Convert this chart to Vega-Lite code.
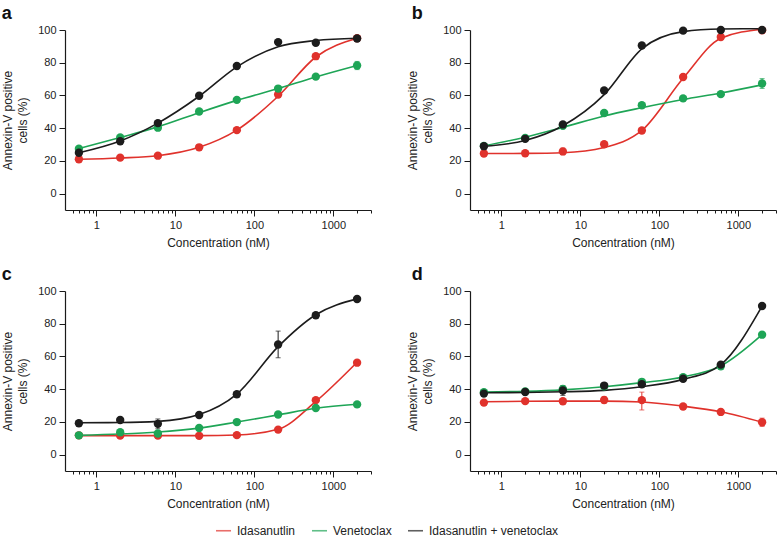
{
  "$schema": "https://vega.github.io/schema/vega-lite/v6.json",
  "padding": {"left": 1, "top": 4, "right": 0, "bottom": 0},
  "background": "white",
  "datasets": {"pts": [
    {"panel":"a","drug":"Idasanutlin","conc":0.6,"pct":21,"fit":21},
    {"panel":"a","drug":"Idasanutlin","conc":2,"pct":22,"fit":21.8},
    {"panel":"a","drug":"Idasanutlin","conc":6,"pct":23.2,"fit":23.2},
    {"panel":"a","drug":"Idasanutlin","conc":20,"pct":28.3,"fit":28.3},
    {"panel":"a","drug":"Idasanutlin","conc":60,"pct":38.8,"fit":38.8},
    {"panel":"a","drug":"Idasanutlin","conc":200,"pct":60.6,"fit":59.5},
    {"panel":"a","drug":"Idasanutlin","conc":600,"pct":84,"fit":83.5},
    {"panel":"a","drug":"Idasanutlin","conc":2000,"pct":95,"fit":95},
    {"panel":"a","drug":"Venetoclax","conc":0.6,"pct":27.5,"fit":27.5},
    {"panel":"a","drug":"Venetoclax","conc":2,"pct":34.3,"fit":34.3},
    {"panel":"a","drug":"Venetoclax","conc":6,"pct":40.3,"fit":40.8},
    {"panel":"a","drug":"Venetoclax","conc":20,"pct":50.2,"fit":49.5},
    {"panel":"a","drug":"Venetoclax","conc":60,"pct":57.3,"fit":57},
    {"panel":"a","drug":"Venetoclax","conc":200,"pct":64.2,"fit":64.2},
    {"panel":"a","drug":"Venetoclax","conc":600,"pct":71.5,"fit":71.3},
    {"panel":"a","drug":"Venetoclax","conc":2000,"pct":78.3,"fit":78.3,"lo":75.8,"hi":80.8},
    {"panel":"a","drug":"Idasanutlin + venetoclax","conc":0.6,"pct":25,"fit":25},
    {"panel":"a","drug":"Idasanutlin + venetoclax","conc":2,"pct":32,"fit":32.2},
    {"panel":"a","drug":"Idasanutlin + venetoclax","conc":6,"pct":43.1,"fit":43.1},
    {"panel":"a","drug":"Idasanutlin + venetoclax","conc":20,"pct":59.8,"fit":59.5},
    {"panel":"a","drug":"Idasanutlin + venetoclax","conc":60,"pct":78,"fit":77.5},
    {"panel":"a","drug":"Idasanutlin + venetoclax","conc":200,"pct":92.6,"fit":89.8},
    {"panel":"a","drug":"Idasanutlin + venetoclax","conc":600,"pct":92.2,"fit":93.6},
    {"panel":"a","drug":"Idasanutlin + venetoclax","conc":2000,"pct":94.8,"fit":95},
    {"panel":"b","drug":"Idasanutlin","conc":0.6,"pct":24.5,"fit":24.5},
    {"panel":"b","drug":"Idasanutlin","conc":2,"pct":24.7,"fit":24.6},
    {"panel":"b","drug":"Idasanutlin","conc":6,"pct":25.8,"fit":25,"lo":23.8,"hi":27.8},
    {"panel":"b","drug":"Idasanutlin","conc":20,"pct":30.2,"fit":28.2},
    {"panel":"b","drug":"Idasanutlin","conc":60,"pct":38.6,"fit":38.6},
    {"panel":"b","drug":"Idasanutlin","conc":200,"pct":71.3,"fit":70.5},
    {"panel":"b","drug":"Idasanutlin","conc":600,"pct":95.7,"fit":95},
    {"panel":"b","drug":"Idasanutlin","conc":2000,"pct":99.8,"fit":100.5},
    {"panel":"b","drug":"Venetoclax","conc":0.6,"pct":29.2,"fit":29.2},
    {"panel":"b","drug":"Venetoclax","conc":2,"pct":34,"fit":34.5},
    {"panel":"b","drug":"Venetoclax","conc":6,"pct":41.5,"fit":40.5},
    {"panel":"b","drug":"Venetoclax","conc":20,"pct":49.3,"fit":47.5},
    {"panel":"b","drug":"Venetoclax","conc":60,"pct":54,"fit":52.5},
    {"panel":"b","drug":"Venetoclax","conc":200,"pct":58.2,"fit":57.5},
    {"panel":"b","drug":"Venetoclax","conc":600,"pct":60.8,"fit":61.5},
    {"panel":"b","drug":"Venetoclax","conc":2000,"pct":67.3,"fit":66.5,"lo":64.3,"hi":70.3},
    {"panel":"b","drug":"Idasanutlin + venetoclax","conc":0.6,"pct":29,"fit":29},
    {"panel":"b","drug":"Idasanutlin + venetoclax","conc":2,"pct":33.5,"fit":32.5},
    {"panel":"b","drug":"Idasanutlin + venetoclax","conc":6,"pct":42.3,"fit":41.5},
    {"panel":"b","drug":"Idasanutlin + venetoclax","conc":20,"pct":63,"fit":60.5},
    {"panel":"b","drug":"Idasanutlin + venetoclax","conc":60,"pct":90.5,"fit":88.5},
    {"panel":"b","drug":"Idasanutlin + venetoclax","conc":200,"pct":99.6,"fit":99},
    {"panel":"b","drug":"Idasanutlin + venetoclax","conc":600,"pct":100,"fit":100.6},
    {"panel":"b","drug":"Idasanutlin + venetoclax","conc":2000,"pct":100,"fit":100.8},
    {"panel":"c","drug":"Idasanutlin","conc":0.6,"pct":11.8,"fit":11.6},
    {"panel":"c","drug":"Idasanutlin","conc":2,"pct":11.6,"fit":11.6},
    {"panel":"c","drug":"Idasanutlin","conc":6,"pct":11.6,"fit":11.6},
    {"panel":"c","drug":"Idasanutlin","conc":20,"pct":11.5,"fit":11.6},
    {"panel":"c","drug":"Idasanutlin","conc":60,"pct":11.9,"fit":12},
    {"panel":"c","drug":"Idasanutlin","conc":200,"pct":15.3,"fit":15.5},
    {"panel":"c","drug":"Idasanutlin","conc":600,"pct":33.3,"fit":32.5},
    {"panel":"c","drug":"Idasanutlin","conc":2000,"pct":56.2,"fit":56.5},
    {"panel":"c","drug":"Venetoclax","conc":0.6,"pct":11.8,"fit":11.8},
    {"panel":"c","drug":"Venetoclax","conc":2,"pct":13.7,"fit":12.6},
    {"panel":"c","drug":"Venetoclax","conc":6,"pct":12.9,"fit":13.8},
    {"panel":"c","drug":"Venetoclax","conc":20,"pct":16.3,"fit":16.2},
    {"panel":"c","drug":"Venetoclax","conc":60,"pct":19.9,"fit":19.9},
    {"panel":"c","drug":"Venetoclax","conc":200,"pct":24.5,"fit":24.3},
    {"panel":"c","drug":"Venetoclax","conc":600,"pct":28.5,"fit":28.3},
    {"panel":"c","drug":"Venetoclax","conc":2000,"pct":30.7,"fit":30.8},
    {"panel":"c","drug":"Idasanutlin + venetoclax","conc":0.6,"pct":19.2,"fit":19.5},
    {"panel":"c","drug":"Idasanutlin + venetoclax","conc":2,"pct":21.2,"fit":19.6},
    {"panel":"c","drug":"Idasanutlin + venetoclax","conc":6,"pct":18.8,"fit":20.3,"lo":15.8,"hi":21.8},
    {"panel":"c","drug":"Idasanutlin + venetoclax","conc":20,"pct":24.2,"fit":24.5},
    {"panel":"c","drug":"Idasanutlin + venetoclax","conc":60,"pct":36.9,"fit":37},
    {"panel":"c","drug":"Idasanutlin + venetoclax","conc":200,"pct":67.3,"fit":66,"lo":59.2,"hi":75.5},
    {"panel":"c","drug":"Idasanutlin + venetoclax","conc":600,"pct":85.2,"fit":85.5},
    {"panel":"c","drug":"Idasanutlin + venetoclax","conc":2000,"pct":95.1,"fit":95.2},
    {"panel":"d","drug":"Idasanutlin","conc":0.6,"pct":31.8,"fit":32.3},
    {"panel":"d","drug":"Idasanutlin","conc":2,"pct":32.7,"fit":32.6},
    {"panel":"d","drug":"Idasanutlin","conc":6,"pct":32.6,"fit":32.7},
    {"panel":"d","drug":"Idasanutlin","conc":20,"pct":33.4,"fit":32.7,"lo":31.4,"hi":35.4},
    {"panel":"d","drug":"Idasanutlin","conc":60,"pct":33.3,"fit":32.2,"lo":27.3,"hi":38.2},
    {"panel":"d","drug":"Idasanutlin","conc":200,"pct":29.4,"fit":29.6},
    {"panel":"d","drug":"Idasanutlin","conc":600,"pct":26.1,"fit":26.2},
    {"panel":"d","drug":"Idasanutlin","conc":2000,"pct":19.8,"fit":19.8,"lo":17.3,"hi":22.3},
    {"panel":"d","drug":"Venetoclax","conc":0.6,"pct":38.2,"fit":38.3},
    {"panel":"d","drug":"Venetoclax","conc":2,"pct":38.6,"fit":38.7},
    {"panel":"d","drug":"Venetoclax","conc":6,"pct":40.2,"fit":39.6},
    {"panel":"d","drug":"Venetoclax","conc":20,"pct":41.7,"fit":41.5},
    {"panel":"d","drug":"Venetoclax","conc":60,"pct":44.5,"fit":44},
    {"panel":"d","drug":"Venetoclax","conc":200,"pct":47.3,"fit":47.5},
    {"panel":"d","drug":"Venetoclax","conc":600,"pct":54,"fit":54.2},
    {"panel":"d","drug":"Venetoclax","conc":2000,"pct":73.3,"fit":73.3},
    {"panel":"d","drug":"Idasanutlin + venetoclax","conc":0.6,"pct":37.3,"fit":37.8},
    {"panel":"d","drug":"Idasanutlin + venetoclax","conc":2,"pct":38.3,"fit":38},
    {"panel":"d","drug":"Idasanutlin + venetoclax","conc":6,"pct":39.2,"fit":38.4,"lo":36.2,"hi":42.2},
    {"panel":"d","drug":"Idasanutlin + venetoclax","conc":20,"pct":42.2,"fit":39.3},
    {"panel":"d","drug":"Idasanutlin + venetoclax","conc":60,"pct":43,"fit":41.5},
    {"panel":"d","drug":"Idasanutlin + venetoclax","conc":200,"pct":46.4,"fit":46},
    {"panel":"d","drug":"Idasanutlin + venetoclax","conc":600,"pct":55,"fit":55},
    {"panel":"d","drug":"Idasanutlin + venetoclax","conc":2000,"pct":90.8,"fit":90.8}
  ]},
  "data": {"name": "pts"},
  "columns": 2,
  "spacing": {"row": 17, "column": 34},
  "resolve": {"scale": {"color": "shared"}, "legend": {"color": "shared"}},
  "concat": [
    {
      "title": {"text": "a"},
      "width": 306, "height": 180,
      "transform": [{"filter": "datum.panel == 'a'"}],
      "encoding": {
        "x": {"field": "conc", "type": "quantitative", "scale": {"type": "log", "domain": [0.4, 3000], "nice": false},
              "axis": {"title": "Concentration (nM)", "values": [0.5,0.6,0.7,0.8,0.9,1,2,3,4,5,6,7,8,9,10,20,30,40,50,60,70,80,90,100,200,300,400,500,600,700,800,900,1000,2000,3000],
                       "format": "d", "labelExpr": "datum.value == 1 || datum.value == 10 || datum.value == 100 || datum.value == 1000 ? datum.label : ''",
                       "tickSize": {"condition": {"test": "datum.value == 1 || datum.value == 10 || datum.value == 100 || datum.value == 1000", "value": 6}, "value": 3}}},
        "color": {"field": "drug", "type": "nominal",
                  "scale": {"domain": ["Idasanutlin", "Venetoclax", "Idasanutlin + venetoclax"], "range": ["#e0322c", "#1ea556", "#1c1c1c"]},
                  "legend": {"title": null, "orient": "none", "direction": "horizontal", "legendX": 150, "legendY": 492}}
      },
      "layer": [
        {"mark": {"type": "line", "interpolate": "monotone", "strokeWidth": 1.6},
         "encoding": {"y": {"field": "fit", "type": "quantitative", "scale": {"domain": [-10, 100], "nice": false},
                            "axis": {"title": ["Annexin-V positive", "cells (%)"], "values": [0, 20, 40, 60, 80, 100]}}}},
        {"transform": [{"filter": "isValid(datum.lo)"}],
         "mark": {"type": "errorbar", "ticks": true},
         "encoding": {"y": {"field": "lo", "type": "quantitative", "axis": {"title": ["Annexin-V positive", "cells (%)"], "values": [0, 20, 40, 60, 80, 100]}}, "y2": {"field": "hi"}}},
        {"mark": {"type": "point", "filled": true, "size": 70, "opacity": 1},
         "encoding": {"y": {"field": "pct", "type": "quantitative", "axis": {"title": ["Annexin-V positive", "cells (%)"], "values": [0, 20, 40, 60, 80, 100]}}}}
      ]
    },
    {
      "title": {"text": "b", "dx": 5},
      "width": 306, "height": 180,
      "transform": [{"filter": "datum.panel == 'b'"}],
      "encoding": {
        "x": {"field": "conc", "type": "quantitative", "scale": {"type": "log", "domain": [0.4, 3000], "nice": false},
              "axis": {"title": "Concentration (nM)", "values": [0.5,0.6,0.7,0.8,0.9,1,2,3,4,5,6,7,8,9,10,20,30,40,50,60,70,80,90,100,200,300,400,500,600,700,800,900,1000,2000,3000],
                       "format": "d", "labelExpr": "datum.value == 1 || datum.value == 10 || datum.value == 100 || datum.value == 1000 ? datum.label : ''",
                       "tickSize": {"condition": {"test": "datum.value == 1 || datum.value == 10 || datum.value == 100 || datum.value == 1000", "value": 6}, "value": 3}}},
        "color": {"field": "drug", "type": "nominal",
                  "scale": {"domain": ["Idasanutlin", "Venetoclax", "Idasanutlin + venetoclax"], "range": ["#e0322c", "#1ea556", "#1c1c1c"]},
                  "legend": {"title": null, "orient": "none", "direction": "horizontal", "legendX": 150, "legendY": 492}}
      },
      "layer": [
        {"mark": {"type": "line", "interpolate": "monotone", "strokeWidth": 1.6},
         "encoding": {"y": {"field": "fit", "type": "quantitative", "scale": {"domain": [-10, 100], "nice": false},
                            "axis": {"title": ["Annexin-V positive", "cells (%)"], "values": [0, 20, 40, 60, 80, 100]}}}},
        {"transform": [{"filter": "isValid(datum.lo)"}],
         "mark": {"type": "errorbar", "ticks": true},
         "encoding": {"y": {"field": "lo", "type": "quantitative", "axis": {"title": ["Annexin-V positive", "cells (%)"], "values": [0, 20, 40, 60, 80, 100]}}, "y2": {"field": "hi"}}},
        {"mark": {"type": "point", "filled": true, "size": 70, "opacity": 1},
         "encoding": {"y": {"field": "pct", "type": "quantitative", "axis": {"title": ["Annexin-V positive", "cells (%)"], "values": [0, 20, 40, 60, 80, 100]}}}}
      ]
    },
    {
      "title": {"text": "c"},
      "width": 306, "height": 180,
      "transform": [{"filter": "datum.panel == 'c'"}],
      "encoding": {
        "x": {"field": "conc", "type": "quantitative", "scale": {"type": "log", "domain": [0.4, 3000], "nice": false},
              "axis": {"title": "Concentration (nM)", "values": [0.5,0.6,0.7,0.8,0.9,1,2,3,4,5,6,7,8,9,10,20,30,40,50,60,70,80,90,100,200,300,400,500,600,700,800,900,1000,2000,3000],
                       "format": "d", "labelExpr": "datum.value == 1 || datum.value == 10 || datum.value == 100 || datum.value == 1000 ? datum.label : ''",
                       "tickSize": {"condition": {"test": "datum.value == 1 || datum.value == 10 || datum.value == 100 || datum.value == 1000", "value": 6}, "value": 3}}},
        "color": {"field": "drug", "type": "nominal",
                  "scale": {"domain": ["Idasanutlin", "Venetoclax", "Idasanutlin + venetoclax"], "range": ["#e0322c", "#1ea556", "#1c1c1c"]},
                  "legend": {"title": null, "orient": "none", "direction": "horizontal", "legendX": 150, "legendY": 492}}
      },
      "layer": [
        {"mark": {"type": "line", "interpolate": "monotone", "strokeWidth": 1.6},
         "encoding": {"y": {"field": "fit", "type": "quantitative", "scale": {"domain": [-10, 100], "nice": false},
                            "axis": {"title": ["Annexin-V positive", "cells (%)"], "values": [0, 20, 40, 60, 80, 100]}}}},
        {"transform": [{"filter": "isValid(datum.lo)"}],
         "mark": {"type": "errorbar", "ticks": true},
         "encoding": {"y": {"field": "lo", "type": "quantitative", "axis": {"title": ["Annexin-V positive", "cells (%)"], "values": [0, 20, 40, 60, 80, 100]}}, "y2": {"field": "hi"}}},
        {"mark": {"type": "point", "filled": true, "size": 70, "opacity": 1},
         "encoding": {"y": {"field": "pct", "type": "quantitative", "axis": {"title": ["Annexin-V positive", "cells (%)"], "values": [0, 20, 40, 60, 80, 100]}}}}
      ]
    },
    {
      "title": {"text": "d", "dx": 5},
      "width": 306, "height": 180,
      "transform": [{"filter": "datum.panel == 'd'"}],
      "encoding": {
        "x": {"field": "conc", "type": "quantitative", "scale": {"type": "log", "domain": [0.4, 3000], "nice": false},
              "axis": {"title": "Concentration (nM)", "values": [0.5,0.6,0.7,0.8,0.9,1,2,3,4,5,6,7,8,9,10,20,30,40,50,60,70,80,90,100,200,300,400,500,600,700,800,900,1000,2000,3000],
                       "format": "d", "labelExpr": "datum.value == 1 || datum.value == 10 || datum.value == 100 || datum.value == 1000 ? datum.label : ''",
                       "tickSize": {"condition": {"test": "datum.value == 1 || datum.value == 10 || datum.value == 100 || datum.value == 1000", "value": 6}, "value": 3}}},
        "color": {"field": "drug", "type": "nominal",
                  "scale": {"domain": ["Idasanutlin", "Venetoclax", "Idasanutlin + venetoclax"], "range": ["#e0322c", "#1ea556", "#1c1c1c"]},
                  "legend": {"title": null, "orient": "none", "direction": "horizontal", "legendX": 150, "legendY": 492}}
      },
      "layer": [
        {"mark": {"type": "line", "interpolate": "monotone", "strokeWidth": 1.6},
         "encoding": {"y": {"field": "fit", "type": "quantitative", "scale": {"domain": [-10, 100], "nice": false},
                            "axis": {"title": ["Annexin-V positive", "cells (%)"], "values": [0, 20, 40, 60, 80, 100]}}}},
        {"transform": [{"filter": "isValid(datum.lo)"}],
         "mark": {"type": "errorbar", "ticks": true},
         "encoding": {"y": {"field": "lo", "type": "quantitative", "axis": {"title": ["Annexin-V positive", "cells (%)"], "values": [0, 20, 40, 60, 80, 100]}}, "y2": {"field": "hi"}}},
        {"mark": {"type": "point", "filled": true, "size": 70, "opacity": 1},
         "encoding": {"y": {"field": "pct", "type": "quantitative", "axis": {"title": ["Annexin-V positive", "cells (%)"], "values": [0, 20, 40, 60, 80, 100]}}}}
      ]
    }
  ],
  "config": {
    "font": "Liberation Sans",
    "view": {"stroke": null},
    "axis": {"grid": false, "domainColor": "#1a1a1a", "domainWidth": 1.2, "tickColor": "#1a1a1a", "tickWidth": 1,
             "labelColor": "#222222", "titleColor": "#222222", "labelFontSize": 11, "titleFontSize": 12, "titleFontWeight": "normal",
             "labelOverlap": false, "labelFlush": false},
    "axisX": {"labelPadding": 3, "titlePadding": 7},
    "axisY": {"tickSize": 6, "labelPadding": 3, "titlePadding": 8, "titleLineHeight": 15},
    "title": {"fontSize": 18, "fontWeight": "bold", "anchor": "start", "frame": "bounds", "color": "#111111", "offset": 1.5},
    "legend": {"symbolType": "stroke", "symbolSize": 225, "symbolStrokeWidth": 1.6, "labelFontSize": 12, "labelColor": "#222222", "columnPadding": 12, "labelOffset": 5},
    "errorbar": {"thickness": 1.2}
  }
}
